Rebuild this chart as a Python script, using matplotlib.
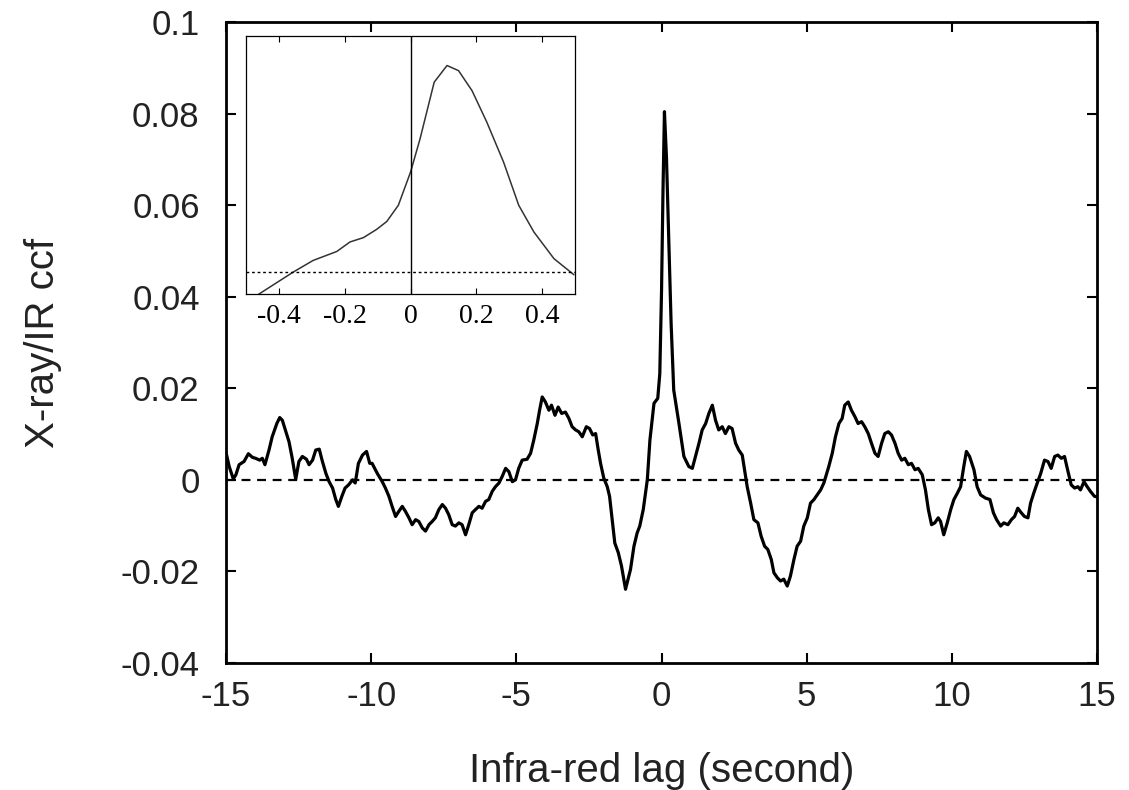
import matplotlib
matplotlib.use("Agg")
import matplotlib.pyplot as plt
import numpy as np

# main ccf curve (lag in s, ccf)
lag = [-14.98, -14.89, -14.75, -14.66, -14.55, -14.38, -14.23, -14.09, -13.98, -13.84,
       -13.75, -13.66, -13.52, -13.41, -13.25, -13.15, -13.06, -12.92, -12.83, -12.72,
       -12.60, -12.49, -12.37, -12.23, -12.14, -12.02, -11.91, -11.79, -11.68, -11.56,
       -11.45, -11.33, -11.22, -11.13, -11.01, -10.90, -10.78, -10.64, -10.55, -10.44,
       -10.30, -10.16, -10.05, -9.97, -9.79, -9.62, -9.51, -9.39, -9.28, -9.16,
       -9.05, -8.93, -8.82, -8.70, -8.59, -8.47, -8.36, -8.24, -8.13, -8.01,
       -7.90, -7.79, -7.67, -7.55, -7.44, -7.33, -7.21, -7.10, -6.98, -6.87,
       -6.75, -6.64, -6.52, -6.41, -6.29, -6.18, -6.06, -5.95, -5.83, -5.72,
       -5.60, -5.49, -5.37, -5.26, -5.14, -5.03, -4.92, -4.80, -4.63, -4.51,
       -4.40, -4.28, -4.20, -4.11, -4.00, -3.88, -3.79, -3.67, -3.56, -3.44,
       -3.31, -3.19, -3.08, -2.96, -2.85, -2.73, -2.59, -2.48, -2.37, -2.27,
       -2.18, -2.10, -1.99, -1.87, -1.79, -1.70, -1.61, -1.49, -1.38, -1.30,
       -1.24, -1.07, -0.95, -0.84, -0.75, -0.63, -0.49, -0.40, -0.26, -0.13,
       -0.06, 0.00, 0.05, 0.10, 0.17, 0.25, 0.33, 0.42, 0.60, 0.77,
       0.94, 1.06, 1.17, 1.29, 1.40, 1.52, 1.63, 1.75, 1.86, 1.97,
       2.09, 2.20, 2.32, 2.43, 2.55, 2.66, 2.78, 2.86, 2.95, 3.07,
       3.18, 3.32, 3.43, 3.55, 3.66, 3.78, 3.87, 3.99, 4.10, 4.21,
       4.33, 4.44, 4.56, 4.67, 4.79, 4.90, 5.02, 5.13, 5.25, 5.36,
       5.48, 5.59, 5.76, 5.88, 5.99, 6.11, 6.22, 6.31, 6.43, 6.54,
       6.66, 6.77, 6.89, 7.00, 7.12, 7.23, 7.35, 7.46, 7.58, 7.69,
       7.81, 7.92, 8.04, 8.15, 8.27, 8.38, 8.50, 8.61, 8.73, 8.84,
       8.98, 9.09, 9.19, 9.30, 9.41, 9.53, 9.61, 9.72, 9.84, 9.96,
       10.07, 10.19, 10.30, 10.41, 10.50, 10.61, 10.76, 10.87, 10.99, 11.16,
       11.31, 11.43, 11.54, 11.68, 11.79, 11.93, 12.05, 12.16, 12.27, 12.39,
       12.50, 12.62, 12.71, 12.82, 12.94, 13.06, 13.19, 13.31, 13.42, 13.54,
       13.65, 13.77, 13.88, 14.00, 14.11, 14.23, 14.34, 14.43, 14.55, 14.66,
       14.77, 14.91, 14.98]
ccf = [0.0054, 0.0029, 0.0002, 0.0011, 0.0033, 0.0040, 0.0057, 0.0049, 0.0047, 0.0043,
       0.0047, 0.0033, 0.0065, 0.0094, 0.0123, 0.0136, 0.0130, 0.0101, 0.0083, 0.0047,
       0.0001, 0.0040, 0.0051, 0.0045, 0.0033, 0.0043, 0.0065, 0.0067, 0.0040, 0.0014,
       -0.0004, -0.0018, -0.0043, -0.0058, -0.0036, -0.0018, -0.0011, 0.0000, -0.0007, 0.0036,
       0.0054, 0.0062, 0.0036, 0.0036, 0.0014, -0.0004, -0.0018, -0.0036, -0.0058, -0.0080,
       -0.0069, -0.0058, -0.0069, -0.0083, -0.0098, -0.0087, -0.0091, -0.0105, -0.0112, -0.0098,
       -0.0091, -0.0083, -0.0065, -0.0054, -0.0062, -0.0076, -0.0098, -0.0101, -0.0094, -0.0098,
       -0.0120, -0.0098, -0.0072, -0.0065, -0.0058, -0.0062, -0.0047, -0.0043, -0.0025, -0.0015,
       -0.0007, 0.0007, 0.0025, 0.0018, -0.0004, 0.0000, 0.0025, 0.0043, 0.0045, 0.0058,
       0.0087, 0.0123, 0.0152, 0.0181, 0.0170, 0.0152, 0.0163, 0.0141, 0.0159, 0.0145,
       0.0148, 0.0134, 0.0116, 0.0109, 0.0105, 0.0094, 0.0116, 0.0112, 0.0098, 0.0101,
       0.0065, 0.0036, 0.0004, -0.0015, -0.0036, -0.0087, -0.0138, -0.0159, -0.0188, -0.0217,
       -0.0239, -0.0196, -0.0145, -0.0116, -0.0101, -0.0065, 0.0000, 0.0087, 0.0167, 0.0178,
       0.0232, 0.0413, 0.0630, 0.0804, 0.0703, 0.0522, 0.0341, 0.0196, 0.0123, 0.0051,
       0.0029, 0.0025, 0.0051, 0.0080, 0.0109, 0.0123, 0.0145, 0.0163, 0.0130, 0.0109,
       0.0116, 0.0101, 0.0116, 0.0112, 0.0080, 0.0065, 0.0054, 0.0022, -0.0015, -0.0051,
       -0.0087, -0.0094, -0.0123, -0.0145, -0.0152, -0.0174, -0.0203, -0.0214, -0.0221, -0.0217,
       -0.0232, -0.0210, -0.0174, -0.0145, -0.0134, -0.0101, -0.0083, -0.0051, -0.0043, -0.0033,
       -0.0022, -0.0007, 0.0029, 0.0058, 0.0094, 0.0123, 0.0134, 0.0163, 0.0170, 0.0152,
       0.0138, 0.0123, 0.0127, 0.0116, 0.0101, 0.0080, 0.0058, 0.0051, 0.0080, 0.0101,
       0.0105, 0.0098, 0.0080, 0.0058, 0.0043, 0.0047, 0.0033, 0.0036, 0.0022, 0.0025,
       0.0011, -0.0022, -0.0065, -0.0098, -0.0094, -0.0083, -0.0091, -0.0120, -0.0094, -0.0065,
       -0.0043, -0.0029, -0.0015, 0.0029, 0.0062, 0.0051, 0.0022, -0.0015, -0.0033, -0.0040,
       -0.0043, -0.0072, -0.0087, -0.0101, -0.0094, -0.0098, -0.0087, -0.0080, -0.0062, -0.0072,
       -0.0080, -0.0083, -0.0051, -0.0029, -0.0007, 0.0014, 0.0043, 0.0040, 0.0025, 0.0051,
       0.0054, 0.0047, 0.0051, 0.0018, -0.0011, -0.0018, -0.0015, -0.0022, -0.0004, -0.0015,
       -0.0025, -0.0036, -0.0037]

# inset: zoom on the peak
lag_in = [-0.50, -0.463, -0.356, -0.296, -0.224, -0.184, -0.143, -0.103, -0.072, -0.037,
          0.000, 0.029, 0.072, 0.111, 0.146, 0.187, 0.232, 0.283, 0.329, 0.375,
          0.436, 0.496]
ccf_in = [-0.0119, -0.0088, 0.0000, 0.0045, 0.0080, 0.0117, 0.0134, 0.0166, 0.0197, 0.0260,
          0.0389, 0.0519, 0.0740, 0.0805, 0.0785, 0.0707, 0.0584, 0.0428, 0.0260, 0.0156,
          0.0052, -0.0010]

xticks = [-15, -10, -5, 0, 5, 10, 15]
yticks = [-0.04, -0.02, 0, 0.02, 0.04, 0.06, 0.08, 0.1]
yticklabels = ["-0.04", "-0.02", "0", "0.02", "0.04", "0.06", "0.08", "0.1"]
inset_ticks = [-0.4, -0.2, 0, 0.2, 0.4]
inset_labels = ["-0.4", "-0.2", "0", "0.2", "0.4"]

plt.rcParams["font.family"] = ["Liberation Sans", "DejaVu Sans"]
txt = "#222222"

fig = plt.figure(figsize=(11.29, 7.9), dpi=100)
ax = fig.add_axes([0.2002, 0.1608, 0.7715, 0.8114])

ax.plot(lag, ccf, color="black", lw=2.3, solid_joinstyle="round")
ax.axhline(0, color="black", lw=1.6, ls=(0, (4, 3)))
ax.set_xlim(-15, 15)
ax.set_ylim(-0.04, 0.1)
ax.set_xticks(xticks)
ax.set_xticklabels([str(t) for t in xticks])
ax.set_yticks(yticks)
ax.set_yticklabels(yticklabels)
ax.tick_params(direction="in", top=True, right=True, length=7, width=1.5,
               labelsize=25, labelcolor=txt)
ax.tick_params(axis="x", pad=12)
ax.tick_params(axis="y", pad=19)
for s in ax.spines.values():
    s.set_linewidth(2)
ax.set_xlabel("Infra-red lag (second)", fontsize=29, color=txt, labelpad=28)
ax.set_ylabel("X-ray/IR ccf", fontsize=29, color=txt, labelpad=42)

# inset
axi = fig.add_axes([0.2179, 0.6278, 0.2914, 0.3266])
axi.plot(lag_in, ccf_in, color="#333333", lw=1.1)
axi.axvline(0, color="black", lw=1.0)
axi.axhline(0, color="black", lw=1.0, ls=(0, (2, 2)))
axi.set_xlim(-0.5, 0.5)
axi.set_ylim(-0.0086, 0.092)
axi.set_xticks(inset_ticks)
axi.set_xticklabels(inset_labels, family=["Liberation Serif", "DejaVu Serif"])
axi.set_yticks([])
axi.tick_params(axis="x", direction="in", top=True, length=4, width=0.8,
                labelsize=20, pad=7)
for s in axi.spines.values():
    s.set_linewidth(0.9)

fig.savefig("out.png", dpi=100)
